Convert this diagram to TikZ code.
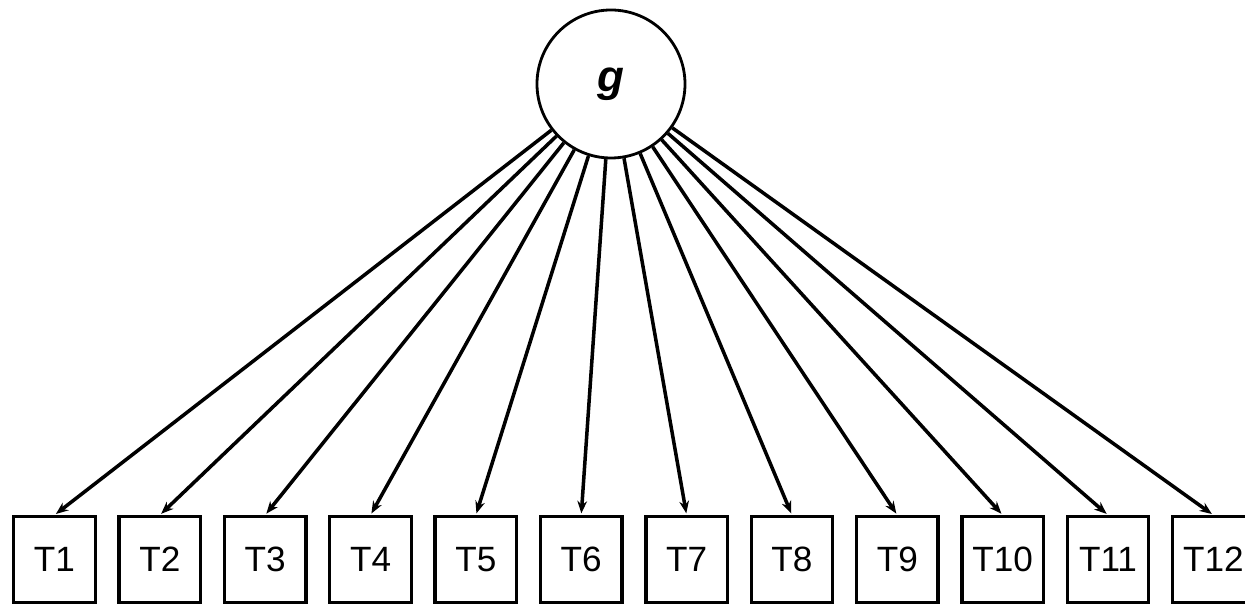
\documentclass[tikz,border=0pt]{standalone}
\usepackage{fontspec}
\setmainfont{Liberation Sans}
\usetikzlibrary{arrows.meta}

\begin{document}
\begin{tikzpicture}[
    facteur/.style={draw, circle, line width=1.6pt, minimum size=2.96cm, inner sep=0pt},
    test/.style={draw, rectangle, line width=1.9pt, minimum width=1.63cm, minimum height=1.71cm, inner sep=0pt, font=\fontsize{20}{22}\selectfont},
    fleche/.style={-{Stealth[length=7pt,width=5.5pt]}, line width=2pt, shorten >=1pt}]
    \useasboundingbox (0,0) rectangle (24.9,12.1);

    % Facteur general
    \node[facteur] (g) at (12.22,10.42) {\fontsize{25}{27}\selectfont\bfseries\itshape g};

    % Tests et fleches
    \foreach \i in {1,...,12} {
        \node[test] (T\i) at ({1.09+2.107*(\i-1)},0.91) {T\i};
        \draw[fleche] (g) -- (T\i.north);
    }
\end{tikzpicture}
\end{document}
